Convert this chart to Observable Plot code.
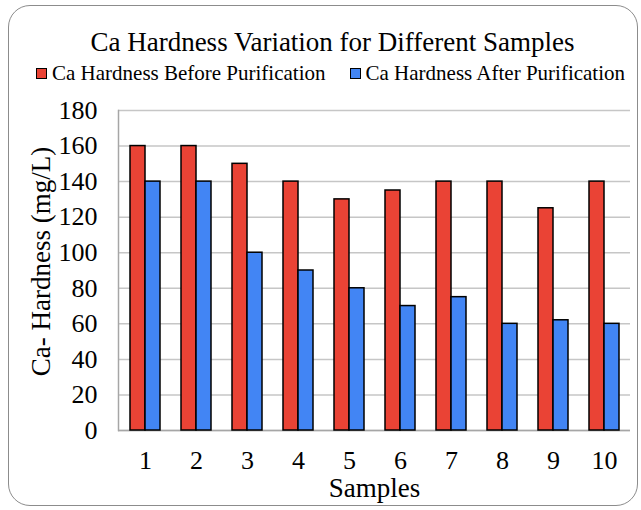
<!DOCTYPE html>
<html><head><meta charset="utf-8">
<script src="https://cdn.jsdelivr.net/npm/d3@7"></script>
<script src="https://cdn.jsdelivr.net/npm/@observablehq/plot@0.6"></script>
<style>
body{margin:0;background:#fff;font-family:"Liberation Serif","Times New Roman",serif;}
#wrap{position:relative;width:641px;height:510px;overflow:hidden;}
#border{position:absolute;left:8px;top:5px;width:630px;height:501px;border:1.5px solid #8c8c8c;border-radius:22px;box-sizing:border-box;}
#title{position:absolute;left:22px;width:621px;top:28px;text-align:center;font-size:27px;line-height:28px;color:#000;}
#legend{position:absolute;left:36px;top:62px;display:flex;align-items:center;font-size:21px;line-height:22px;white-space:nowrap;}
.sw{width:11px;height:11px;border:1.5px solid #000;box-sizing:border-box;margin-right:5px;}
.item{display:flex;align-items:center;margin-right:24px;}
#chart{position:absolute;left:0;top:90px;}
</style></head>
<body><div id="wrap"><div id="border"></div>
<div id="title">Ca Hardness Variation for Different Samples</div>
<div id="legend"></div>
<div id="chart"></div></div>
<script>
const samples = ["1","2","3","4","5","6","7","8","9","10"];
const before = [160,160,150,140,130,135,140,140,125,140];
const after = [140,140,100,90,80,70,75,60,62,60];
const seriesNames = ["Ca Hardness Before Purification","Ca Hardness After Purification"];
const colors = ["#EA4335","#4285F4"];
const yTicks = [0,20,40,60,80,100,120,140,160,180];

const data = samples.map((s,i)=>({sample:s, before:before[i], after:after[i]}));

const legend = document.getElementById("legend");
seriesNames.forEach((n,i)=>{
  const it = document.createElement("div"); it.className="item";
  const sw = document.createElement("div"); sw.className="sw"; sw.style.background=colors[i];
  const t = document.createElement("span"); t.textContent=n;
  it.appendChild(sw); it.appendChild(t); legend.appendChild(it);
});

const xOpts = {domain: samples, paddingInner: 0.42, paddingOuter: 0.21};
const base = {width:641, height:415, marginTop:20, marginBottom:75, marginLeft:118, marginRight:11};
const probe = Plot.plot({...base, x: xOpts, y:{domain:[0,180]}, marks:[Plot.barY(data,{x:"sample",y:"before"})]});
const bw = probe.scale("x").bandwidth;

const chart = Plot.plot({
  ...base,
  style:{fontFamily:"Liberation Serif, Times New Roman, serif", fontSize:"26px", color:"#000", background:"transparent"},
  x: xOpts,
  y: {domain:[0,180]},
  marks: [
    Plot.gridY(yTicks, {stroke:"#c6c6c6", strokeOpacity:1, strokeWidth:1.5}),
    Plot.frame({anchor:"left", stroke:"#a6a6a6", strokeWidth:1.5}),
    Plot.ruleY([0], {stroke:"#a6a6a6", strokeWidth:1.5}),
    Plot.barY(data, {x:"sample", y:"before", fill:colors[0], stroke:"#000", strokeWidth:1.5, insetRight: bw/2}),
    Plot.barY(data, {x:"sample", y:"after", fill:colors[1], stroke:"#000", strokeWidth:1.5, insetLeft: bw/2}),
    Plot.axisY(yTicks, {tickSize:0, tickPadding:21, fontSize:26, label:"Ca- Hardness (mg/L)", labelAnchor:"center", labelOffset:88, labelArrow:"none"}),
    Plot.axisX({tickSize:0, tickPadding:20, fontSize:26, label:"Samples", labelAnchor:"center", labelOffset:66, labelArrow:"none"})
  ]
});
chart.querySelectorAll("[aria-label='y-axis label'] text, [aria-label='x-axis label'] text").forEach(t=>t.style.fontSize="27px");
const yl = chart.querySelector("[aria-label='y-axis label'] text");
if (yl) yl.setAttribute("dx", "9");
document.getElementById("chart").appendChild(chart);
</script></body></html>
